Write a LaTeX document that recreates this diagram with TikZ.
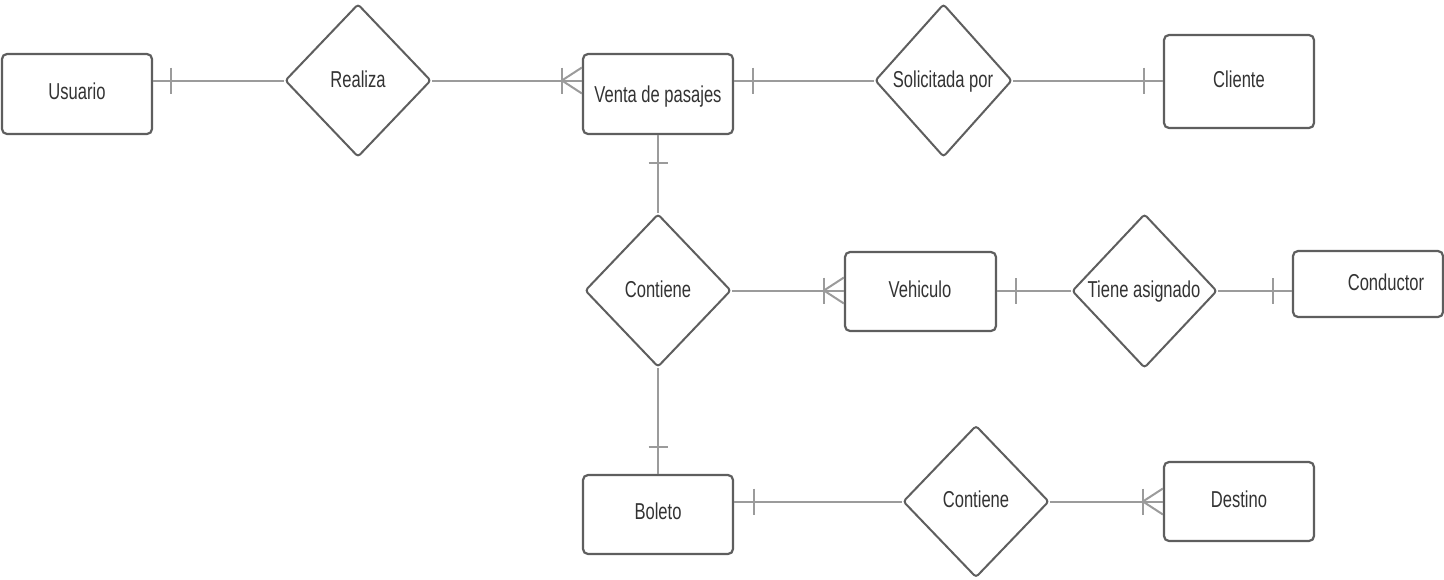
\documentclass[tikz,border=0pt]{standalone}
\usepackage{fontspec}
\setmainfont{Liberation Sans}[FakeStretch=0.72]
\usetikzlibrary{shapes.geometric}
\definecolor{edgegray}{HTML}{5E5E5E}
\definecolor{linkgray}{HTML}{9B9B9B}
\definecolor{inkgray}{HTML}{333333}
\begin{document}
\begin{tikzpicture}[x=1pt,y=-1pt,
  entity/.style={draw=edgegray,line width=2.2pt,rounded corners=5pt,fill=white,inner sep=0pt},
  relation/.style={diamond,draw=edgegray,line width=2pt,rounded corners=3pt,fill=white,inner sep=0pt},
  link/.style={draw=linkgray,line width=2pt},
  lbl/.style={text=inkgray,font=\fontsize{23}{27}\selectfont,inner sep=0pt,anchor=base}]
\useasboundingbox (0,0) rectangle (1444,579);

% entities
\node[entity,minimum width=150pt,minimum height=80pt] (usuario)   at (77,94)      {};
\node[entity,minimum width=150pt,minimum height=80pt] (venta)     at (658,94)     {};
\node[entity,minimum width=150pt,minimum height=93pt] (cliente)   at (1239,81.5)  {};
\node[entity,minimum width=151pt,minimum height=79pt] (vehiculo)  at (920.5,291.5){};
\node[entity,minimum width=150pt,minimum height=66pt] (conductor) at (1368,284)   {};
\node[entity,minimum width=150pt,minimum height=79pt] (boleto)    at (658,514.5)  {};
\node[entity,minimum width=150pt,minimum height=79pt] (destino)   at (1239,501.5) {};

% relationships
\node[relation,minimum width=146pt,minimum height=153pt] (realiza)    at (358,80.5)   {};
\node[relation,minimum width=137pt,minimum height=153pt] (solicitada) at (943.5,80.5) {};
\node[relation,minimum width=146pt,minimum height=153pt] (contieneA)  at (658,290.5)  {};
\node[relation,minimum width=145pt,minimum height=154pt] (tiene)      at (1144.5,291) {};
\node[relation,minimum width=146pt,minimum height=152pt] (contieneB)  at (976,501.5)  {};

% labels
\node[lbl] (usuario-l)    at (77,99)    {Usuario};
\node[lbl] (venta-l)      at (658,102)  {Venta de pasajes};
\node[lbl] (cliente-l)    at (1239,87)  {Cliente};
\node[lbl] (vehiculo-l)   at (920,297)  {Vehiculo};
\node[lbl] (conductor-l)  at (1386,290) {Conductor};
\node[lbl] (boleto-l)     at (658,519)  {Boleto};
\node[lbl] (destino-l)    at (1239,507) {Destino};
\node[lbl] (realiza-l)    at (358,87)   {Realiza};
\node[lbl] (solicitada-l) at (943,87)   {Solicitada por};
\node[lbl] (contieneA-l)  at (658,297)  {Contiene};
\node[lbl] (tiene-l)      at (1144,297) {Tiene asignado};
\node[lbl] (contieneB-l)  at (976,507)  {Contiene};

% Usuario -- Realiza -- Venta de pasajes
\draw[link] (usuario.east |- realiza.west) -- (realiza.west);
\draw[link] (usuario.east |- realiza.west) ++(18,-13) -- ++(0,26);
\draw[link] (realiza.east) -- (realiza.east -| venta.west);
\draw[link] (realiza.east -| venta.west) ++(-20,-13) -- ++(0,26);
\draw[link] (realiza.east -| venta.west) ++(0,-13) -- ++(-20,13) -- ++(20,13);

% Venta de pasajes -- Solicitada por -- Cliente
\draw[link] (venta.east |- solicitada.west) -- (solicitada.west);
\draw[link] (venta.east |- solicitada.west) ++(19,-13) -- ++(0,26);
\draw[link] (solicitada.east) -- (solicitada.east -| cliente.west);
\draw[link] (solicitada.east -| cliente.west) ++(-19,-13) -- ++(0,26);

% Venta de pasajes -- Contiene -- Boleto
\draw[link] (venta.south) -- (contieneA.north);
\draw[link] (venta.south) ++(-9.5,28) -- ++(19,0);
\draw[link] (contieneA.south) -- (boleto.north);
\draw[link] (boleto.north) ++(-9.5,-27) -- ++(19,0);

% Contiene -- Vehiculo
\draw[link] (contieneA.east) -- (contieneA.east -| vehiculo.west);
\draw[link] (contieneA.east -| vehiculo.west) ++(-20,-13) -- ++(0,26);
\draw[link] (contieneA.east -| vehiculo.west) ++(0,-13) -- ++(-20,13) -- ++(20,13);

% Vehiculo -- Tiene asignado -- Conductor
\draw[link] (vehiculo.east |- tiene.west) -- (tiene.west);
\draw[link] (vehiculo.east |- tiene.west) ++(19,-13) -- ++(0,26);
\draw[link] (tiene.east) -- (tiene.east -| conductor.west);
\draw[link] (tiene.east -| conductor.west) ++(-19,-13) -- ++(0,26);

% Boleto -- Contiene -- Destino
\draw[link] (boleto.east |- contieneB.west) -- (contieneB.west);
\draw[link] (boleto.east |- contieneB.west) ++(20,-13) -- ++(0,26);
\draw[link] (contieneB.east) -- (contieneB.east -| destino.west);
\draw[link] (contieneB.east -| destino.west) ++(-20,-13) -- ++(0,26);
\draw[link] (contieneB.east -| destino.west) ++(0,-13) -- ++(-20,13) -- ++(20,13);
\end{tikzpicture}
\end{document}
